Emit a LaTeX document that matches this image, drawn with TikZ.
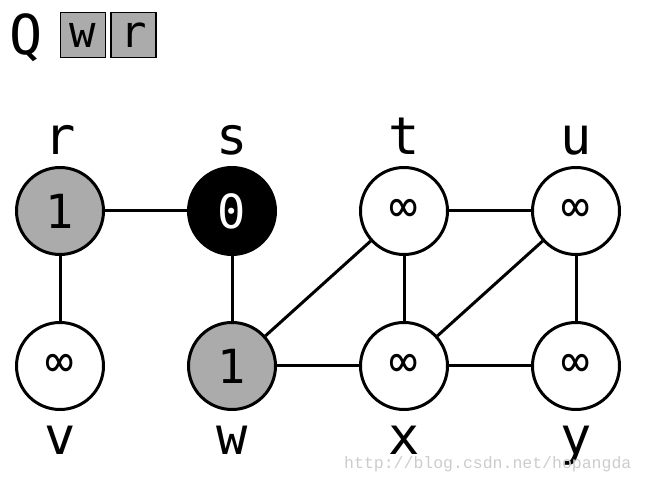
\documentclass[tikz,border=0pt]{standalone}
\usepackage{fontspec}
\setmonofont[RawFeature=+zero]{DejaVu Sans Mono}
\usetikzlibrary{positioning, calc}

\begin{document}
\begin{tikzpicture}[x=1pt, y=1pt, node distance=82pt,
          vertex/.style={circle, draw=black, line width=3pt, fill=white, minimum size=87pt, inner sep=0pt, font=\ttfamily\fontsize{47}{49}\selectfont},
          graynode/.style={vertex, fill=black!33},
          srcnode/.style={vertex, fill=black, text=white},
          lbl/.style={anchor=base, inner sep=0pt, font=\ttfamily\fontsize{52}{54}\selectfont},
          qbox/.style={rectangle, draw=black, line width=1.5pt, fill=black!33, minimum size=45pt, inner sep=0pt, font=\ttfamily\fontsize{44}{46}\selectfont},
          edge/.style={line width=3pt, black}]
        \useasboundingbox (0,0) rectangle (646,-481);

        % queue
        \node [anchor=base west, inner sep=0pt, font=\ttfamily\fontsize{55}{57}\selectfont] (q) at (9,-55) {Q};
        \node [qbox] (q1) at (83,-35) {w};
        \node [qbox, right=4pt of q1] (q2) {r};

        % vertices
        \node [graynode] (r) at (60,-211) {1};
        \node [srcnode, right=of r] (s) {0};
        \node [vertex, right=of s] (t) {∞};
        \node [vertex, right=of t] (u) {∞};
        \node [vertex, below=65pt of r] (v) {∞};
        \node [graynode, right=of v] (w) {1};
        \node [vertex, right=of w] (x) {∞};
        \node [vertex, right=of x] (y) {∞};

        % names
        \foreach \n in {r,s,t,u}
          \node [lbl] (\n lab) at ($(\n)+(0,56)$) {\n};
        \foreach \n in {v,w,x,y}
          \node [lbl] (\n lab) at ($(\n)+(0,-88)$) {\n};

        % edges
        \draw [edge] (r) -- (s);
        \draw [edge] (r) -- (v);
        \draw [edge] (s) -- (w);
        \draw [edge] (w) -- (t);
        \draw [edge] (w) -- (x);
        \draw [edge] (t) -- (u);
        \draw [edge] (t) -- (x);
        \draw [edge] (x) -- (u);
        \draw [edge] (u) -- (y);
        \draw [edge] (x) -- (y);

        \node [anchor=base west, inner sep=0pt, text=black!20, font=\fontspec{Liberation Mono}\fontsize{16.5}{18}\selectfont] (mark) at (344,-468) {http://blog.csdn.net/hopangda};
      \end{tikzpicture}
\end{document}
